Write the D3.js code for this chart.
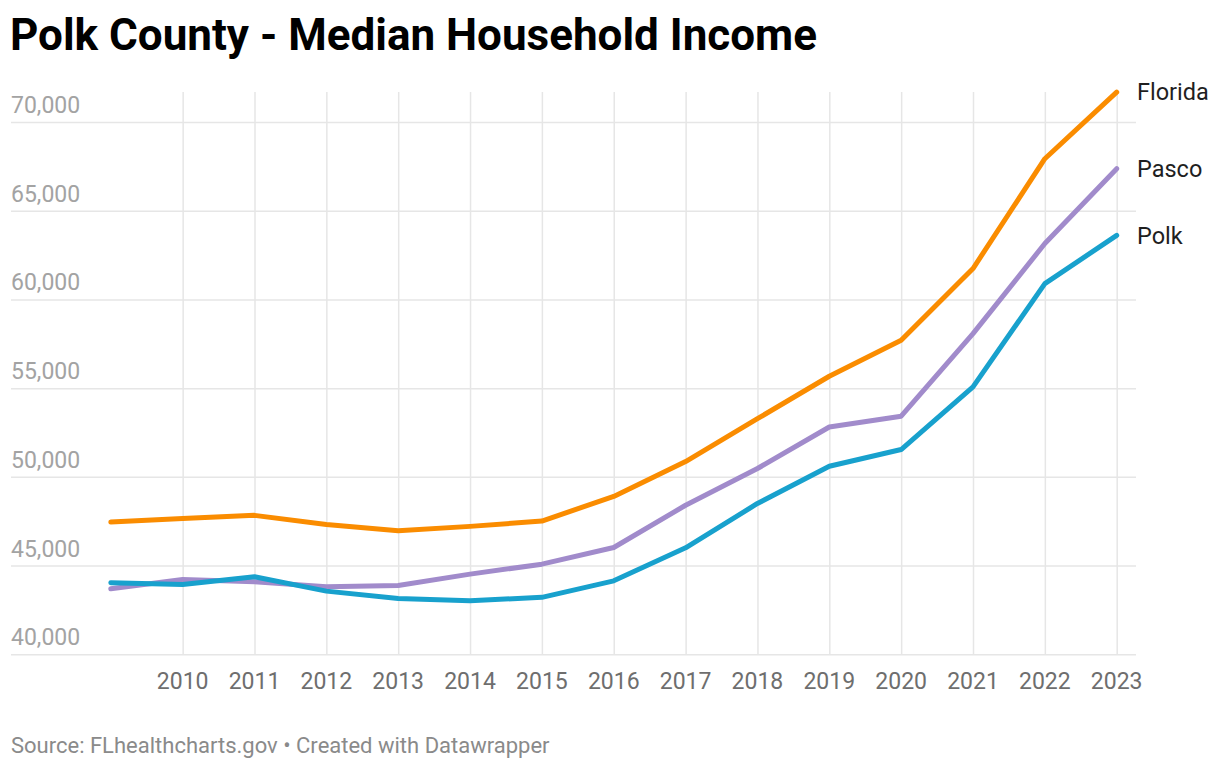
<!DOCTYPE html>
<html>
<head>
<meta charset="utf-8">
<script src="https://cdn.jsdelivr.net/npm/d3@7"></script>
<style>
	body { margin: 0; background: #fff; font-family: Roboto, sans-serif; }
	.grid line { stroke: #e6e6e6; stroke-width: 1.5px; }
	.grid path { display: none; }
</style>
</head>
<body>
<script>

var w = 1220;
var h = 772;

var years = [2009, 2010, 2011, 2012, 2013, 2014, 2015, 2016, 2017, 2018, 2019, 2020, 2021, 2022, 2023];
var florida = [47450, 47660, 47830, 47310, 46960, 47210, 47510, 48900, 50860, 53280, 55670, 57700, 61740, 67930, 71680];
var pasco = [43690, 44220, 44090, 43810, 43880, 44520, 45080, 46020, 48400, 50470, 52810, 53420, 58070, 63150, 67370];
var polk = [44030, 43940, 44370, 43560, 43150, 43020, 43210, 44140, 46000, 48500, 50600, 51540, 55070, 60890, 63610];

var xTicks = [2010, 2011, 2012, 2013, 2014, 2015, 2016, 2017, 2018, 2019, 2020, 2021, 2022, 2023];
var yTicks = [40000, 45000, 50000, 55000, 60000, 65000, 70000];

var series = [
	{ name: 'Florida', values: florida, color: '#fa8c00' },
	{ name: 'Pasco', values: pasco, color: '#a18bcb' },
	{ name: 'Polk', values: polk, color: '#18a1cd' }
];

var svg = d3.select('body')
	.append('svg')
	.attr('width', w)
	.attr('height', h);

var x = d3.scaleLinear().domain([2009, 2023]).range([110.8, 1116.7]);
var y = d3.scaleLinear().domain([40000, 70000]).range([654.3, 122]);

var gridLeft = 11, gridRight = 1136, gridTop = 92;

// horizontal gridlines
svg.append('g')
	.attr('class', 'grid')
	.attr('transform', 'translate(' + gridRight + ',0)')
	.call(d3.axisLeft(y).tickValues(yTicks).tickSize(gridRight - gridLeft).tickFormat(''));

// vertical gridlines
svg.append('g')
	.attr('class', 'grid')
	.attr('transform', 'translate(0,' + y(40000) + ')')
	.call(d3.axisTop(x).tickValues(xTicks).tickSize(y(40000) - gridTop).tickFormat(''));

// y labels
svg.selectAll('.ylab')
	.data(yTicks)
	.enter()
	.append('text')
	.attr('class', 'ylab')
	.attr('x', gridLeft)
	.attr('y', function(d){ return y(d) - 9; })
	.style('font-size', '23px')
	.style('fill', '#a3a3a3')
	.text(function(d){ return d3.format(',')(d); });

// x labels
svg.selectAll('.xlab')
	.data(xTicks)
	.enter()
	.append('text')
	.attr('class', 'xlab')
	.attr('x', function(d){ return x(d); })
	.attr('y', 688.5)
	.attr('text-anchor', 'middle')
	.style('font-size', '23px')
	.style('fill', '#6e6e6e')
	.text(function(d){ return d; });

var line = d3.line()
	.x(function(d, i){ return x(years[i]); })
	.y(function(d){ return y(d); });

svg.selectAll('.series')
	.data(series)
	.enter()
	.append('path')
	.attr('class', 'series')
	.attr('d', function(d){ return line(d.values); })
	.attr('fill', 'none')
	.attr('stroke', function(d){ return d.color; })
	.attr('stroke-width', 5)
	.attr('stroke-linejoin', 'round')
	.attr('stroke-linecap', 'round');

svg.selectAll('.slab')
	.data(series)
	.enter()
	.append('text')
	.attr('class', 'slab')
	.attr('x', 1137)
	.attr('y', function(d){ return y(d.values[d.values.length - 1]); })
	.attr('dy', '0.35em')
	.style('font-size', '23.5px')
	.style('fill', '#1f1f1f')
	.text(function(d){ return d.name; });

svg.append('text')
	.attr('x', 10)
	.attr('y', 50)
	.style('font-size', '44px')
	.style('font-weight', 'bold')
	.style('fill', '#000')
	.text('Polk County - Median Household Income');

svg.append('text')
	.attr('x', 11)
	.attr('y', 753)
	.style('font-size', '22px')
	.style('fill', '#8a8a8a')
	.text('Source: FLhealthcharts.gov \u2022 Created with Datawrapper');

</script>
</body>
</html>
